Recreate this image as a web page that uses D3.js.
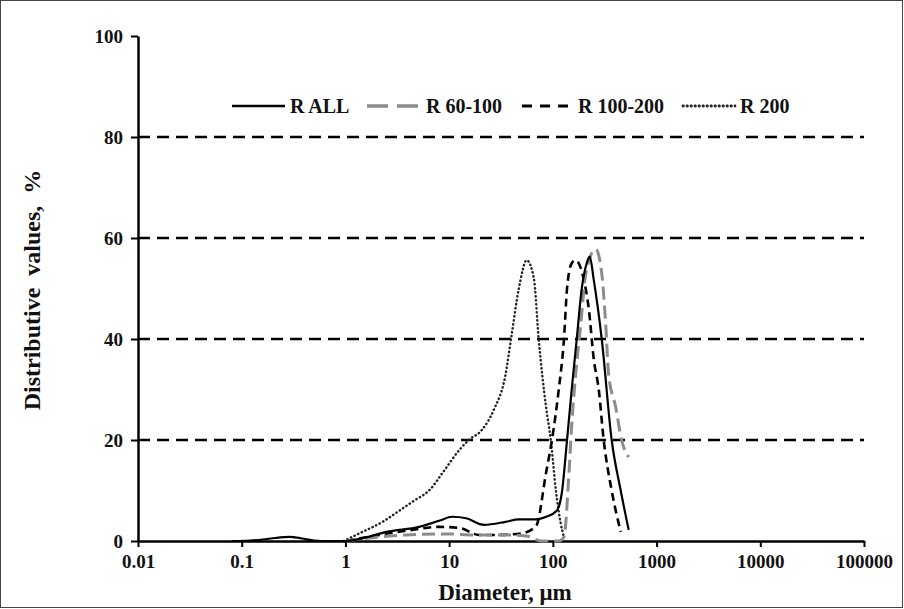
<!DOCTYPE html>
<html>
<head>
<meta charset="utf-8">
<script src="https://cdn.jsdelivr.net/npm/d3@7"></script>
<style>
  body { margin: 0; background: #fff; }
  svg text { font-family: "Liberation Serif", "DejaVu Serif", serif; font-weight: bold; fill: #111; }
</style>
</head>
<body>
<div id="chart"></div>
<script>
// tick values
var xTicks = [0.01, 0.1, 1, 10, 100, 1000, 10000, 100000];
var xTickLabels = ['0.01', '0.1', '1', '10', '100', '1000', '10000', '100000'];
var yTicks = [0, 20, 40, 60, 80, 100];
var gridValues = [20, 40, 60, 80];

// series (diameter in um, distributive value in %)
var seriesNames = ['R ALL', 'R 60-100', 'R 100-200', 'R 200'];

var rAllD = [0.08, 0.12, 0.16, 0.21, 0.29, 0.38, 0.5, 0.7, 1.02, 1.5, 2.48, 5.15, 8.0, 10.7, 14.6, 21.7, 35, 47, 69, 86, 109, 122, 137, 152, 170, 190, 212, 227, 248, 296, 369, 451, 538];
var rAllV = [0, 0.1, 0.3, 0.6, 0.8, 0.5, 0.1, 0, 0, 0.6, 1.8, 2.8, 4.0, 4.8, 4.5, 3.2, 3.8, 4.3, 4.3, 4.8, 6.0, 9.5, 20, 30, 40, 50, 55, 56.3, 51.7, 40, 20, 10, 2.2];

var r60D = [1.02, 2.12, 3.86, 9.4, 18.2, 35, 55, 78, 114, 128, 143, 152, 166, 186, 208, 259, 296, 323, 345, 404, 460, 538];
var r60V = [0, 0.8, 1.2, 1.4, 1.2, 1.2, 1.0, 0, 0, 0.8, 13.5, 23, 33, 43, 53, 57.8, 53, 43, 33, 26.5, 20, 16.6];

var r100D = [1.02, 2.12, 4.4, 8.0, 12.5, 19.4, 28.3, 50, 69, 86, 98, 114, 128, 137, 152, 166, 199, 222, 248, 277, 309, 369, 451];
var r100V = [0, 1.2, 2.2, 2.8, 2.6, 1.2, 1.2, 1.5, 3.0, 13.5, 20, 30, 40, 50, 55, 55.6, 51.7, 46, 36, 30, 20, 10, 1.8];

var r200D = [0.96, 1.36, 2.37, 3.3, 4.6, 6.4, 9.0, 12.5, 15.5, 20.7, 27, 35, 39.5, 47, 56, 65.6, 73, 86, 95.5, 107, 119, 128];
var r200V = [0, 1.5, 4, 6, 8, 10, 14, 18, 20, 22, 26, 33, 40, 50, 55.6, 52, 40, 26.5, 20, 10, 3.5, 0.8];

var width = 904, height = 609;
var margin = { top: 36, right: 40, bottom: 68, left: 138 };

var svg = d3.select('#chart').append('svg')
  .attr('width', width)
  .attr('height', height);

// outer frame
svg.append('rect')
  .attr('x', 0.5).attr('y', 0.5)
  .attr('width', width - 2).attr('height', height - 2)
  .attr('fill', 'none')
  .attr('stroke', '#444')
  .attr('stroke-width', 1);

var x = d3.scaleLog().domain([0.01, 100000]).range([margin.left, width - margin.right]);
var y = d3.scaleLinear().domain([0, 100]).range([height - margin.bottom, margin.top]);

// dashed gridlines
svg.append('g').selectAll('line')
  .data(gridValues).enter()
  .append('line')
  .attr('x1', x(0.01)).attr('x2', x(100000))
  .attr('y1', function(d) { return y(d); })
  .attr('y2', function(d) { return y(d); })
  .attr('stroke', '#000')
  .attr('stroke-width', 2.5)
  .attr('stroke-dasharray', '12,7');

// axes
var xAxis = d3.axisBottom(x)
  .tickValues(xTicks)
  .tickFormat(function(d, i) { return xTickLabels[i]; })
  .tickSize(6)
  .tickSizeOuter(0)
  .tickPadding(8);

var yAxis = d3.axisLeft(y)
  .tickValues(yTicks)
  .tickSize(7)
  .tickSizeOuter(0)
  .tickPadding(8);

var gx = svg.append('g')
  .attr('transform', 'translate(0,' + y(0) + ')')
  .call(xAxis);
var gy = svg.append('g')
  .attr('transform', 'translate(' + x(0.01) + ',0)')
  .call(yAxis);

[gx, gy].forEach(function(g) {
  g.select('.domain').attr('stroke', '#000').attr('stroke-width', 2.5);
  g.selectAll('.tick line').attr('stroke', '#000').attr('stroke-width', 2);
  g.selectAll('.tick text').style('font-size', '19px').attr('fill', '#111');
});

// axis titles
svg.append('text')
  .attr('x', 505).attr('y', 600)
  .attr('text-anchor', 'middle')
  .style('font-size', '23px')
  .text('Diameter, \u03bcm');

svg.append('text')
  .attr('transform', 'translate(40,' + 290 + ') rotate(-90)')
  .attr('text-anchor', 'middle')
  .style('font-size', '24px')
  .style('word-spacing', '6px')
  .text('Distributive values, %');

// series styles
var styles = [
  { d: rAllD, v: rAllV, stroke: '#000', width: 2.2, dash: null, legendDash: null },
  { d: r60D, v: r60V, stroke: '#8c8c8c', width: 3, dash: '13,6', legendDash: '21,9' },
  { d: r100D, v: r100V, stroke: '#000', width: 2.6, dash: '8,5', legendDash: '10,8' },
  { d: r200D, v: r200V, stroke: '#222', width: 2.4, dash: '0.4,3.6', legendDash: '0.4,3.6' }
];

var line = d3.line()
  .x(function(p) { return x(p[0]); })
  .y(function(p) { return y(p[1]); })
  .curve(d3.curveMonotoneX);

var plot = svg.append('g');
styles.slice().reverse().forEach(function(s, k) {
  var pts = s.d.map(function(dd, i) { return [dd, s.v[i]]; });
  plot.append('path')
    .datum(pts)
    .attr('d', line)
    .attr('fill', 'none')
    .attr('stroke', s.stroke)
    .attr('stroke-width', s.width)
    .attr('stroke-linecap', k === 0 ? 'round' : 'butt')
    .attr('stroke-dasharray', s.dash);
});

// legend
var legendY = 106;
var legendItems = [
  { x1: 232, x2: 285, tx: 290 },
  { x1: 367, x2: 420, tx: 426 },
  { x1: 522, x2: 573, tx: 578 },
  { x1: 683, x2: 735, tx: 740 }
];
var legend = svg.append('g');
legendItems.forEach(function(item, i) {
  var s = styles[i];
  legend.append('line')
    .attr('x1', item.x1).attr('x2', item.x2)
    .attr('y1', legendY).attr('y2', legendY)
    .attr('stroke', s.stroke)
    .attr('stroke-width', s.width + 0.4)
    .attr('stroke-linecap', i === 3 ? 'round' : 'butt')
    .attr('stroke-dasharray', s.legendDash);
  legend.append('text')
    .attr('x', item.tx).attr('y', legendY + 7)
    .style('font-size', '20px')
    .text(seriesNames[i]);
});
</script>
</body>
</html>
